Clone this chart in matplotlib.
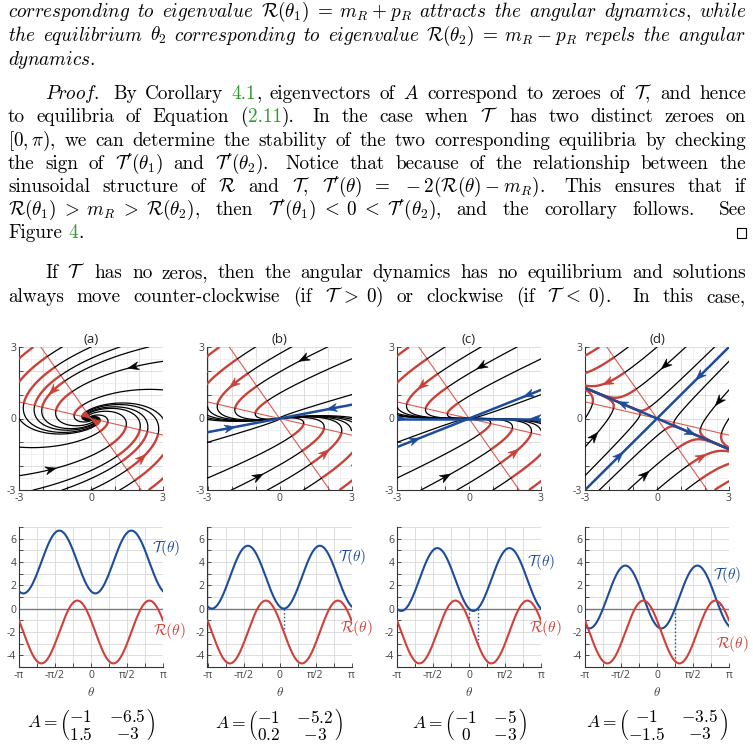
import numpy as np
import matplotlib.pyplot as plt
from matplotlib.patches import Polygon, Rectangle

plt.rcParams['mathtext.fontset'] = 'cm'
plt.rcParams['font.family'] = ['cmr10']
plt.rcParams['axes.formatter.use_mathtext'] = True

W, H = 753, 749
K, GREEN = 'black', '#2f9a2f'
RED, RED_LINE, RED_CURVE, BLUE = '#c8423a', '#dc5a52', '#d13f3a', '#1c4c9a'
GRID, GRID_MINOR, AXC, TICKC = '#d8d8d8', '#ececec', '#333333', '#444444'
TICKFONT = 'Open Sans'

# ---- data ----
panel_titles = ['(a)', '(b)', '(c)', '(d)']
mat_a = [[-1, -6.5], [1.5, -3]]
mat_b = [[-1, -5.2], [0.2, -3]]
mat_c = [[-1, -5], [0, -3]]
mat_d = [[-1, -3.5], [-1.5, -3]]
matrices = [mat_a, mat_b, mat_c, mat_d]

# trajectory start points on the top edge (x values, y = 3); the other three
# edges carry the same points turned by quarter turns
start_top_a = [-2.4, -1.2, 0, 1.2, 2.4]
start_top_b = [-2.5, -1, 0.5, 2]
start_top_c = [-2.5, -1, 0.5, 2]
start_top_d = [-2.4, -1.2, 0, 1.2, 2.4]
start_tops = [start_top_a, start_top_b, start_top_c, start_top_d]
# whether a trajectory that leaves the box is still drawn when it comes back
comes_back = [False, True, True, True]

# arrow heads on trajectories
arrows_a = [(1.82, 1.96), (-1.71, -1.97), (-1.57, 1.13), (2.03, -1.56)]
arrows_b = [(1.13, 2.31), (-0.96, -2.31), (-1.86, 1.36), (1.89, -1.44)]
arrows_c = [(0.55, 2.12), (-1.0, -2.36), (-1.98, 1.39), (1.88, -1.38)]
arrows_d = [(0.28, 2.30), (-0.49, -2.37), (2.51, 0.77), (-2.58, -0.77),
            (-2.09, 1.61), (1.88, -1.67)]
traj_arrows = [arrows_a, arrows_b, arrows_c, arrows_d]

# arrow heads on the eigenvector lines
eig_arrows_a = []
eig_arrows_b = [(2.17, 0.43), (-2.07, -0.36)]
eig_arrows_c = [(-2.89, 0.0), (2.79, 0.0), (2.51, 0.9), (-2.26, -0.89)]
eig_arrows_d = [(1.81, 1.74), (-1.61, -1.53), (-1.45, 0.6), (1.39, -0.6)]
eig_arrows = [eig_arrows_a, eig_arrows_b, eig_arrows_c, eig_arrows_d]

theta_ticks = [-np.pi, -np.pi / 2, 0, np.pi / 2, np.pi]
theta_labels = ['-\u03c0', '-\u03c0/2', '0', '\u03c0/2', '\u03c0']
curve_yticks = [-4, -2, 0, 2, 4, 6]

# label positions: x in axes fraction, y in data units
label_T = [(0.924, 5.2), (0.903, 4.4), (0.902, 4.0), (0.889, 2.86)]
label_R = [(0.930, -1.9), (0.917, -1.7), (0.916, -1.7), (0.910, -3.0)]


def it(words):
    return ' '.join(r'$\mathit{%s}$' % w for w in words.split())


text_lines = [
    [(it('corresponding to eigenvalue') + r' $\mathcal{R}(\theta_1)\;=\;m_R\:+\:p_R$ '
      + it('attracts the angular') + ' ' + it('dynamics') + ', ' + it('while'), K)],
    [(it('the equilibrium') + r' $\theta_2$ ' + it('corresponding to eigenvalue')
      + r' $\mathcal{R}(\theta_2)\;=\;m_R\:-\:p_R$ ' + it('repels the angular'), K)],
    [(it('dynamics') + '.', K)],
    [(it('Proof') + '.  By Corollary ', K), ('4.1', GREEN),
     (r', eigenvectors of $A$ correspond to zeroes of $\mathcal{T}$, and hence', K)],
    [('to equilibria of Equation (', K), ('2.11', GREEN),
     (r').  In the case when $\mathcal{T}$ has two distinct zeroes on', K)],
    [(r'$[0,\pi)$, we can determine the stability of the two corresponding equilibria by checking', K)],
    [(r"the sign of $\mathcal{T}'(\theta_1)$ and $\mathcal{T}'(\theta_2)$.  Notice that because of the relationship between the", K)],
    [(r"sinusoidal structure of $\mathcal{R}$ and $\mathcal{T}$, $\mathcal{T}'(\theta)\;\;=\;\;-2(\mathcal{R}(\theta)\:-\:m_R)$.  This ensures that if", K)],
    [(r"$\mathcal{R}(\theta_1)\;>\;m_R\;>\;\mathcal{R}(\theta_2)$, then $\mathcal{T}'(\theta_1)\;<\;0\;<\;\mathcal{T}'(\theta_2)$, and the corollary follows.  See", K)],
    [('Figure ', K), ('4', GREEN), ('.', K)],
    [(r"If $\mathcal{T}$ has no zeros, then the angular dynamics has no equilibrium and solutions", K)],
    [(r"always move counter-clockwise (if $\mathcal{T}\;>\;0$) or clockwise (if $\mathcal{T}\;<\;0$).  In this case,", K)],
]
line_base = [17, 41, 65, 99, 122, 146, 169, 192, 215, 238, 278, 302]
line_indent = [0, 0, 0, 1, 0, 0, 0, 0, 0, 0, 1, 0]
line_justify = [1, 1, 0, 1, 1, 1, 1, 1, 1, 0, 1, 1]

fig = plt.figure(figsize=(W / 100, H / 100), dpi=100)
renderer = fig.canvas.get_renderer()


def tokenize(pieces):
    tokens, gaps = [], []
    cur, buf, spaces = [], '', 0
    for text, color in pieces:
        inmath = False
        for ch in text:
            if ch == '$':
                inmath = not inmath
            if ch == ' ' and not inmath:
                if buf:
                    cur.append((buf, color))
                    buf = ''
                if cur:
                    tokens.append(cur)
                    cur = []
                    spaces = 0
                spaces += 1
                continue
            if not cur and not buf and tokens:
                gaps.append(1.6 if spaces > 1 else 1.0)
            buf += ch
        if buf:
            cur.append((buf, color))
            buf = ''
    if cur:
        tokens.append(cur)
    return tokens, gaps


def draw_line(pieces, base, x0, x1, justify, size):
    tokens, gaps = tokenize(pieces)
    items = []
    for tok in tokens:
        arts, w = [], 0.0
        for s, c in tok:
            t = fig.text(0, 0, s, color=c, fontsize=size, va='baseline', ha='left')
            arts.append((t, w))
            w += t.get_window_extent(renderer).width
        items.append((arts, w))
    total = sum(w for _, w in items)
    space = size * 100 / 72 * 0.333
    unit = (x1 - x0 - total) / sum(gaps) if (justify and gaps) else space
    x = x0
    for i, (arts, w) in enumerate(items):
        for t, off in arts:
            t.set_position(((x + off) / W, 1 - base / H))
        x += w
        if i < len(gaps):
            x += unit * gaps[i]


TEXT_SIZE = 13.8
for pieces, base, ind, just in zip(text_lines, line_base, line_indent, line_justify):
    draw_line(pieces, base, 8 + 37 * ind, 746, just, TEXT_SIZE)
fig.add_artist(Rectangle((737 / W, 1 - 238 / H), 9 / W, 10 / H, transform=fig.transFigure,
                         fill=False, lw=0.8, ec='black'))


# ---- dynamics helpers ----
def T_of(A, th):
    (a, b), (c, d) = A
    return c * np.cos(th) ** 2 + (d - a) * np.sin(th) * np.cos(th) - b * np.sin(th) ** 2


def R_of(A, th):
    (a, b), (c, d) = A
    return a * np.cos(th) ** 2 + (b + c) * np.sin(th) * np.cos(th) + d * np.sin(th) ** 2


def eigen_angles(A):
    (a, b), (c, d) = A
    out = []
    for t in np.roots([-b, d - a, c]):
        th = np.arctan(t.real) % np.pi
        if abs(T_of(A, th)) < 0.1 and all(abs(th - o) > 1e-6 for o in out):
            out.append(th)
    return out


def flow_step(A, dt):
    M = np.array(A, float) * dt / 1024.0
    E, term = np.eye(2), np.eye(2)
    for k in range(1, 8):
        term = term @ M / k
        E = E + term
    for _ in range(10):
        E = E @ E
    return E


def trajectories(A, seeds, back_in, dt=0.003, nmax=9000):
    # forward in time from the edge points; the axes clip what lies outside
    Phi = flow_step(A, dt)
    P = np.array(seeds, float)
    out = np.empty((nmax + 1, len(seeds), 2))
    out[0] = P
    for k in range(nmax):
        P = P @ Phi.T
        out[k + 1] = P
    curves = []
    for j in range(len(seeds)):
        tr = out[:, j, :]
        r = np.hypot(tr[1:, 0], tr[1:, 1])
        stop_mask = (r < 2e-3) | (r > 40)
        if not back_in:
            stop_mask |= np.max(np.abs(tr[1:]), axis=1) > 3.0 + 1e-9
        stop = np.argmax(stop_mask) if stop_mask.any() else nmax
        tr = tr[:stop + 2]
        inside = np.max(np.abs(tr[1:]), axis=1) < 3.0
        if inside.sum() > 2:
            curves.append(tr)
    return curves


def radial(A, p):
    return np.einsum('ij,ij->i', p, p @ np.array(A, float).T)


def arrowhead(ax, p, d, color, L=0.45, hw=0.17, notch=0.14):
    d = np.asarray(d, float)
    d = d / np.linalg.norm(d)
    n = np.array([-d[1], d[0]])
    p = np.asarray(p, float)
    tip, back = p + d * L / 2, p - d * L / 2
    ax.add_patch(Polygon([tip, back + n * hw, back + d * notch, back - n * hw], closed=True,
                         fc=color, ec=color, lw=0.4, zorder=6))


def style_axes(ax):
    for s in ['top', 'right']:
        ax.spines[s].set_visible(False)
    for s in ['left', 'bottom']:
        ax.spines[s].set_color(AXC)
        ax.spines[s].set_linewidth(0.8)
    ax.tick_params(which='both', direction='in', length=3, width=0.6, color=AXC,
                   labelsize=7.5, labelcolor=TICKC, pad=2)
    ax.tick_params(which='minor', length=0)
    ax.set_axisbelow(True)


def edge_seeds(top):
    pts = []
    for x in top:
        p = (x, 3.0)
        for _ in range(4):
            pts.append(p)
            p = (p[1], -p[0])
    return pts


col_x = [19, 207.5, 397, 585]
AX_W = 144

for i, A in enumerate(matrices):
    A = np.array(A, float)
    # ---- phase portrait ----
    ax = fig.add_axes([col_x[i] / W, 1 - 490 / H, AX_W / W, 143 / H])
    ax.set_xlim(-3, 3)
    ax.set_ylim(-3, 3)
    ax.set_xticks(range(-3, 4))
    ax.set_yticks(range(-3, 4))
    lab = ['-3', '', '', '0', '', '', '3']
    ax.set_xticklabels(lab, fontfamily=TICKFONT)
    ax.set_yticklabels(lab, fontfamily=TICKFONT)
    ax.set_xticks(np.arange(-2.5, 3, 1), minor=True)
    ax.set_yticks(np.arange(-2.5, 3, 1), minor=True)
    ax.grid(True, which='major', color=GRID, lw=0.6)
    ax.grid(True, which='minor', color=GRID_MINOR, lw=0.5)
    style_axes(ax)
    ax.set_title(panel_titles[i], fontfamily=TICKFONT, fontsize=9.5, color='#222222', pad=3)

    (a, b), (c, d) = A
    for t in np.roots([d, b + c, a]):
        if abs(t.imag) < 1e-9:
            u = np.array([np.cos(np.arctan(t.real)), np.sin(np.arctan(t.real))])
            s = 3 / np.max(np.abs(u))
            ax.plot([-s * u[0], s * u[0]], [-s * u[1], s * u[1]], color=RED_LINE, lw=0.8, zorder=2)

    curves = trajectories(A, edge_seeds(start_tops[i]), comes_back[i])
    for tr in curves:
        red = radial(A, tr) > 0
        idx = np.flatnonzero(np.diff(red.astype(int))) + 1
        bounds = [0] + list(idx) + [len(tr)]
        for s0, e0 in zip(bounds[:-1], bounds[1:]):
            seg = tr[s0:e0 + 1]
            if red[s0]:
                ax.plot(seg[:, 0], seg[:, 1], color=RED, lw=1.7, zorder=3.5, solid_capstyle='butt')
            else:
                ax.plot(seg[:, 0], seg[:, 1], color='black', lw=0.9, zorder=3)

    allpts = np.vstack(curves)
    allpts = allpts[np.max(np.abs(allpts), axis=1) < 2.8]
    for q in traj_arrows[i]:
        j = np.argmin(np.hypot(allpts[:, 0] - q[0], allpts[:, 1] - q[1]))
        p = allpts[j]
        col = RED if radial(A, p[None, :])[0] > 0 else 'black'
        arrowhead(ax, p, A @ p, col)

    dirs = []
    for th in eigen_angles(A):
        u = np.array([np.cos(th), np.sin(th)])
        dirs.append(u)
        s = 3 / np.max(np.abs(u))
        ax.plot([-s * u[0], s * u[0]], [-s * u[1], s * u[1]], color=BLUE, lw=1.8, zorder=4)
    for q in eig_arrows[i]:
        q = np.array(q, float)
        u = min(dirs, key=lambda v: abs(q[0] * v[1] - q[1] * v[0]))
        p = (q @ u) * u
        arrowhead(ax, p, np.sign((A @ p) @ u) * u, BLUE)

    # ---- T and R curves ----
    bx = fig.add_axes([col_x[i] / W, 1 - 667 / H, AX_W / W, 140 / H])
    bx.set_xlim(-np.pi, np.pi)
    bx.set_ylim(-5, 7)
    bx.set_xticks(theta_ticks)
    bx.set_xticklabels(theta_labels, fontfamily=TICKFONT)
    bx.set_xticks(np.arange(-3, 4, 2) * np.pi / 4, minor=True)
    bx.set_yticks(curve_yticks)
    bx.set_yticklabels([str(v) for v in curve_yticks], fontfamily=TICKFONT)
    bx.set_yticks(np.arange(-5, 8, 2), minor=True)
    bx.grid(True, which='both', color=GRID, lw=0.6)
    style_axes(bx)
    bx.tick_params(which='minor', length=3)
    th = np.linspace(-np.pi, np.pi, 600)
    bx.axhline(0, color='#7a7a7a', lw=1.0, zorder=2)
    bx.plot(th, T_of(A, th), color=BLUE, lw=1.5, zorder=3)
    bx.plot(th, R_of(A, th), color=RED_CURVE, lw=1.5, zorder=3)
    for e in eigen_angles(A):
        bx.plot([e, e], [T_of(A, e), R_of(A, e)], ls=':', color=BLUE, lw=1.0, zorder=2.5)
    tf = bx.get_yaxis_transform()
    bx.text(label_T[i][0], label_T[i][1], r'$\mathcal{T}(\theta)$', transform=tf, color=BLUE,
            fontsize=11, va='center', ha='left', clip_on=False)
    bx.text(label_R[i][0], label_R[i][1], r'$\mathcal{R}(\theta)$', transform=tf, color=RED_CURVE,
            fontsize=11, va='center', ha='left', clip_on=False)
    xc = (col_x[i] + AX_W / 2) / W
    fig.text(xc, 1 - 692 / H, r'$\theta$', fontsize=9.5, color=TICKC, ha='center', va='center')

    def fmt(v):
        return '%g' % v
    mtxt = (r'$A = \left(\genfrac{}{}{0}{0}{%s}{%s}\quad\genfrac{}{}{0}{0}{%s}{%s}\right)$'
            % (fmt(a), fmt(c), fmt(b), fmt(d)))
    fig.text(xc, 1 - 724 / H, mtxt, fontsize=12.5, ha='center', va='center')

fig.savefig('out.png', dpi=100)
